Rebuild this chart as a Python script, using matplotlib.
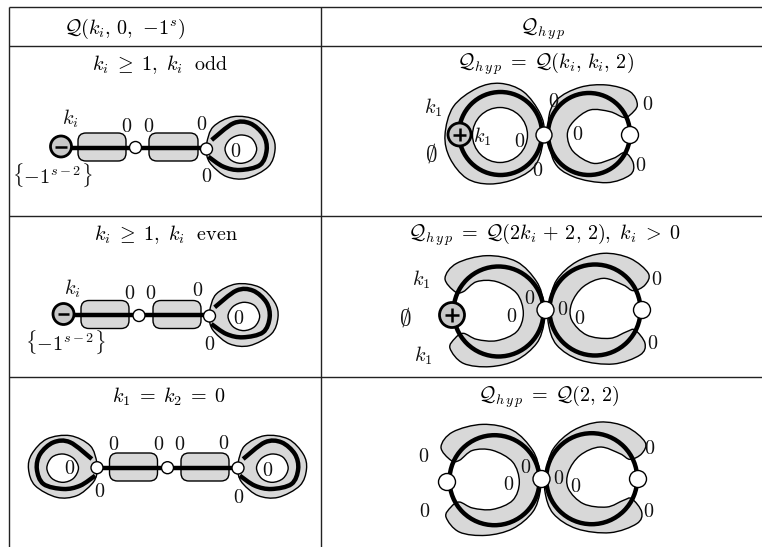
import numpy as np
import matplotlib
matplotlib.use('Agg')
import matplotlib.pyplot as plt
from matplotlib.path import Path
from matplotlib.patches import PathPatch, Circle, FancyBboxPatch

plt.rcParams['mathtext.fontset'] = 'cm'

#table texts
headers = [r'$\mathcal{Q}(k_i,\, 0,\, -\!1^s)$', r'$\mathcal{Q}_{h\,y\,p}$']
left_titles = [r'$k_i\; \geq\; 1,\ k_i\ \ \mathrm{odd}$', r'$k_i\; \geq\; 1,\ k_i\ \ \mathrm{even}$', r'$k_1\; =\; k_2\; =\; 0$']
right_titles = [r'$\mathcal{Q}_{h\,y\,p}\; =\; \mathcal{Q}(k_i,\, k_i,\, 2)$',
                r'$\mathcal{Q}_{h\,y\,p}\; =\; \mathcal{Q}(2k_i\, +\, 2,\, 2),\ k_i\; >\; 0$',
                r'$\mathcal{Q}_{h\,y\,p}\; =\; \mathcal{Q}(2,\, 2)$']
ki = r'$k_i$'
k1 = r'$k_1$'
empty = r'$\emptyset$'
zero = r'$0$'
sing = r'$\{-1^{s-2}\}$'

#outlines, in px of a 3x crop
loop_outer = [(620,430),(640,380),(700,350),(770,360),(815,405),(825,450),(805,500),(740,535),(680,530),(635,495),(620,465)]
loop_thick = [(635,420),(700,370),(750,370),(790,405),(800,450),(780,495),(720,510),(670,500),(625,470)]
loop_inner = [(675,447),(690,418),(722,405),(755,415),(770,447),(755,478),(722,490),(690,478)]
round_outer = [(315,405),(340,320),(410,265),(480,250),(550,275),(600,340),(612,400),(590,490),(530,535),(450,552),(380,535),(330,475)]
c_right = [(625,365),(650,300),(720,262),(800,255),(870,275),(892,315),(870,345),(850,352),(810,335),(750,330),(700,365),(682,405),
           (700,455),(760,490),(820,475),(855,458),(880,490),(870,525),(800,548),(700,530),(640,480)]
c2_left = [(345,305),(315,265),(350,220),(440,197),(530,215),(590,275),(612,340),(612,400),(590,460),(530,510),(450,530),(370,520),
           (330,475),(345,445),(370,430),(410,448),(470,452),(530,425),(550,370),(530,310),(470,275),(410,275),(370,305)]
c2_right = [(628,340),(650,270),(710,215),(790,190),(870,205),(925,250),(915,285),(880,302),(850,285),(790,265),(730,290),(695,340),
            (695,390),(740,435),(810,445),(860,425),(885,420),(915,460),(900,495),(820,522),(720,510),(650,465),(625,400)]


def smooth(pts, closed=True):
    #catmull-rom through the points, as bezier segments
    p = np.array(pts, dtype=float)
    n = len(p)
    verts = [p[0]]
    codes = [Path.MOVETO]
    last = n if closed else n - 1
    for i in range(last):
        if closed:
            p0, p1, p2, p3 = p[(i-1) % n], p[i], p[(i+1) % n], p[(i+2) % n]
        else:
            p0, p1, p2, p3 = p[max(i-1, 0)], p[i], p[i+1], p[min(i+2, n-1)]
        verts += [p1 + (p2-p0)/6, p2 - (p3-p1)/6, p2]
        codes += [Path.CURVE4]*3
    return Path(verts, codes)


def crop(pts, x0, y0):
    return [(x0 + x/3, y0 + y/3) for x, y in pts]


fig = plt.figure(figsize=(7.62, 5.47), dpi=100)
ax = fig.add_axes([0, 0, 1, 1])
ax.set_xlim(0, 762)
ax.set_ylim(547, 0)
ax.axis('off')

GRAY = '#d8d8d8'
fs = 14.5


def shape(pts, fc=GRAY, lw=1.0, z=2):
    ax.add_patch(PathPatch(smooth(pts), fc=fc, ec='black', lw=lw, zorder=z))


def node(x, y, r):
    ax.add_patch(Circle((x, y), r, fc='white', ec='black', lw=1.0, zorder=6))


def signed(x, y, r, sign):
    ax.add_patch(Circle((x, y), r, fc='#c8c8c8', ec='black', lw=2.0, zorder=6))
    s = r*0.55
    ax.plot([x-s, x+s], [y, y], color='black', lw=1.8, zorder=7, solid_capstyle='butt')
    if sign == '+':
        ax.plot([x, x], [y-s, y+s], color='black', lw=1.8, zorder=7, solid_capstyle='butt')


def loop(x0, y0, mirror_x=None):
    #teardrop on the right of a node, or flipped around mirror_x
    def place(pts):
        q = crop(pts, x0, y0)
        if mirror_x is not None:
            q = [(2*mirror_x - x, y) for x, y in q]
        return q
    shape(place(loop_outer), z=2)
    shape(place(loop_inner), fc='white', z=3)
    ax.add_patch(PathPatch(smooth(place(loop_thick), closed=False), fc='none', ec='black', lw=3.2, zorder=4))


def pill(x1, x2, y):
    ax.add_patch(FancyBboxPatch((x1, y-14), x2-x1, 28, boxstyle='round,pad=0,rounding_size=8', fc=GRAY, ec='black', lw=1.0, zorder=2))


def ring(cx, cy, r):
    ax.add_patch(Circle((cx, cy), r, fc='none', ec='black', lw=3.2, zorder=4))


def label(items, x0, y0):
    for s, x, y in items:
        #the empty set glyph comes out small in mathtext
        size = fs*1.15 if s == empty else fs
        ax.text(x0 + x/3, y0 + y/3, s, fontsize=size, ha='center', va='center', color='#111111', zorder=8)


#grid of the table
for y in [7, 45.5, 216, 376.5]:
    ax.plot([9, 762], [y, y], color='#222222', lw=1.0, solid_capstyle='butt')
for x in [9, 320.5]:
    ax.plot([x, x], [7, 547], color='#222222', lw=1.0, solid_capstyle='butt')

#titles
ax.text(125, 29, headers[0], fontsize=fs, ha='center', va='center')
ax.text(543, 29, headers[1], fontsize=fs, ha='center', va='center')
for t, x, y in zip(left_titles, [160, 165.7, 168.5], [65, 235, 397]):
    ax.text(x, y, t, fontsize=fs, ha='center', va='center')
for t, x, y in zip(right_titles, [545, 544, 549], [64, 235, 397]):
    ax.text(x, y, t, fontsize=fs, ha='center', va='center')

#row 1 left
ax.plot([61, 207], [147.5, 147.5], color='black', lw=3.2, zorder=4, solid_capstyle='butt')
pill(78, 126, 147)
pill(149, 198, 147)
loop(0, 0)
signed(61, 146.5, 10.5, '-')
node(135.5, 147.5, 6)
node(206.5, 149, 6)
label([(ki,210,355),(zero,380,378),(zero,445,378),(zero,605,372),(zero,707,455),(zero,620,530),(sing,158,525)], 0, 0)

#row 2 left
ax.plot([64, 210], [315.3, 315.3], color='black', lw=3.2, zorder=4, solid_capstyle='butt')
pill(81, 129, 314.5)
pill(153, 201, 314.5)
loop(3, 167.3)
signed(63.5, 314, 10.5, '-')
node(139, 315.5, 6)
node(209.5, 316, 6)
label([(ki,218,295),(zero,390,310),(zero,452,310),(zero,593,300),(zero,715,385),(zero,630,465),(sing,195,455)], 0, 190)

#row 3 left
ax.plot([97, 238], [467.7, 467.7], color='black', lw=3.2, zorder=4, solid_capstyle='butt')
pill(109.5, 157.5, 467)
pill(181, 229, 467)
loop(31.5, 319)
#left teardrop: the right one flipped through x = (97+238)/2
loop(31.5, 319, mirror_x=167.5)
node(97, 467.7, 6)
node(167.5, 467.7, 6)
node(238, 468, 6)
label([(zero,342,240),(zero,475,240),(zero,540,240),(zero,672,235),(zero,210,310),(zero,298,380),(zero,802,315),(zero,715,397)], 0, 365)

#row 1 right
shape(crop(round_outer, 340, 0))
ax.add_patch(Circle((500, 135), 27.5, fc='white', ec='black', lw=1.0, zorder=3))
shape(crop(c_right, 340, 0))
ring(500.5, 133.5, 41.5)
ring(589, 134, 41)
signed(459.5, 134.5, 11.5, '+')
node(544, 135, 8)
node(630, 135, 8.5)
label([(k1,280,322),(k1,427,410),(empty,275,460),(zero,640,305),(zero,922,315),(zero,538,425),(zero,712,403),(zero,592,510),(zero,903,497)], 340, 0)

#rows 2 and 3 right share the same outline
shape(crop(c2_left, 340, 190))
shape(crop(c2_right, 340, 190))
ring(498.5, 311.5, 45)
ring(595, 310, 45.5)
signed(452, 315, 12.5, '+')
node(545.5, 310, 8.5)
node(642, 310, 8.5)
label([(k1,245,268),(empty,195,382),(k1,250,497),(zero,570,325),(zero,515,380),(zero,668,358),(zero,720,385),(zero,950,268),(zero,937,460)], 340, 190)

shape(crop(c2_left, 336, 358.7))
shape(crop(c2_right, 336.7, 358.7))
ring(494.5, 480.2, 45)
ring(591.7, 478.7, 45.5)
node(447, 482, 8.5)
node(541.5, 479, 8.5)
node(638, 479, 8.5)
label([(zero,250,273),(zero,255,440),(zero,558,307),(zero,505,357),(zero,657,342),(zero,708,365),(zero,930,250),(zero,925,440)], 340, 365)

fig.savefig('out.png', dpi=100)
